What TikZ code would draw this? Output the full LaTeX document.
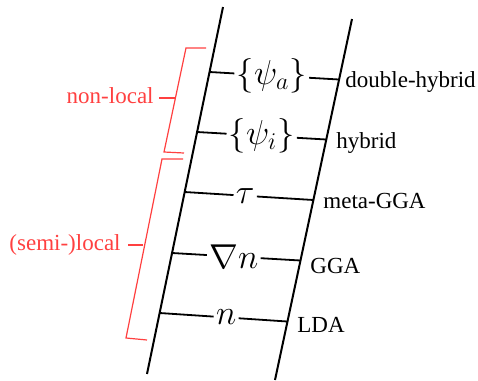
\documentclass[tikz,border=0pt]{standalone}
\usepackage{fontspec}
\setmainfont{Liberation Serif}
\usetikzlibrary{calc}
\definecolor{bracketred}{RGB}{255,64,64}
\begin{document}
\begin{tikzpicture}[x=0.5pt,y=-0.5pt,
  rail/.style={line width=1pt},
  rung/.style={line width=0.9pt},
  mlabel/.style={inner sep=1pt, font=\fontsize{16.5}{18}\selectfont},
  rlabel/.style={anchor=base west, inner sep=0pt, font=\fontsize{11.5}{13}\selectfont},
  brk/.style={draw=bracketred, line width=0.6pt},
  blabel/.style={anchor=base east, inner sep=0pt, text=bracketred, font=\fontsize{11.5}{13}\selectfont}]
\useasboundingbox (0,0) rectangle (478,381);
% rails
\coordinate (lt) at (223,7);
\coordinate (lb) at (147,374);
\coordinate (rt) at (352,19);
\coordinate (rb) at (275,380);
\draw[rail] (lt) -- (lb);
\draw[rail] (rt) -- (rb);
% rung end points
\coordinate (l1) at ($(lt)!0.1771!(lb)$);
\coordinate (l2) at ($(lt)!0.3406!(lb)$);
\coordinate (l3) at ($(lt)!0.5041!(lb)$);
\coordinate (l4) at ($(lt)!0.6703!(lb)$);
\coordinate (l5) at ($(lt)!0.8338!(lb)$);
\coordinate (r1) at ($(rt)!0.1676!(rb)$);
\coordinate (r2) at ($(rt)!0.3338!(rb)$);
\coordinate (r3) at ($(rt)!0.5014!(rb)$);
\coordinate (r4) at ($(rt)!0.6690!(rb)$);
\coordinate (r5) at ($(rt)!0.8380!(rb)$);
% rung labels
\node[mlabel] (m1) at ($(l1)!0.48!(r1)$) {$\{\psi_a\}$};
\node[mlabel] (m2) at ($(l2)!0.50!(r2)$) {$\{\psi_i\}$};
\node[mlabel] (m3) at ($(l3)!0.47!(r3)$) {$\tau$};
\node[mlabel] (m4) at ($(l4)!0.48!(r4)$) {$\nabla n$};
\node[mlabel] (m5) at ($(l5)!0.52!(r5)$) {$n$};
\foreach \i in {1,...,5}{
  \draw[rung] (l\i) -- (m\i);
  \draw[rung] (m\i) -- (r\i);
}
% right labels
\node[rlabel] (t1) at (345,87) {double-hybrid};
\node[rlabel] (t2) at (336,148) {hybrid};
\node[rlabel] (t3) at (323,208) {meta-GGA};
\node[rlabel] (t4) at (310,273) {GGA};
\node[rlabel] (t5) at (297,332) {LDA};
% brackets
\coordinate (nA) at (206,48);
\coordinate (nB) at (186,48);
\coordinate (nC) at (164,152);
\coordinate (nD) at (184,153);
\coordinate (nM) at (175,98);
\coordinate (nT) at (159,98);
\draw[brk] (nA) -- (nB) -- (nC) -- (nD);
\draw[brk] (nM) -- (nT);
\node[blabel] (nl) at (154,103) {non-local};
\coordinate (sA) at (183,159);
\coordinate (sB) at (162,159);
\coordinate (sC) at (126,338);
\coordinate (sD) at (147,340);
\coordinate (sM) at (143,245);
\coordinate (sT) at (128,245);
\draw[brk] (sA) -- (sB) -- (sC) -- (sD);
\draw[brk] (sM) -- (sT);
\node[blabel] (sl) at (121,250) {(semi-)local};
\end{tikzpicture}
\end{document}
